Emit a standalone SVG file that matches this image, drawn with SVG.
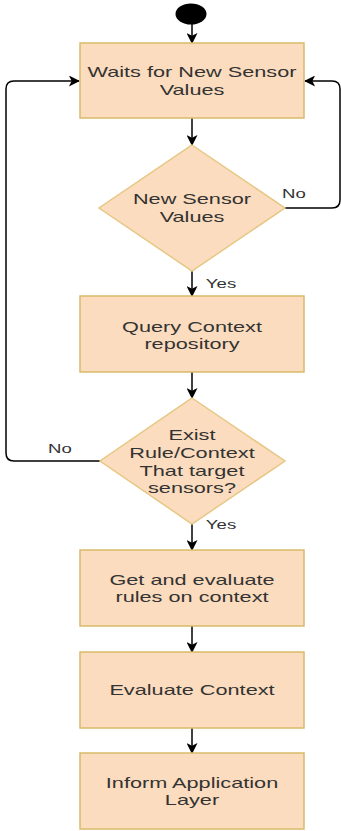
<svg xmlns="http://www.w3.org/2000/svg" width="341" height="831" viewBox="0 0 341 831">
<style>
.box{fill:#fbdcbe;stroke:#d9bb6a;stroke-width:1.5}
.dia{fill:#fbdcbe;stroke:#e6c784;stroke-width:1.5}
.t{font-family:"Liberation Sans",Arial,sans-serif;font-size:14px;fill:#333;text-anchor:middle}
.l{font-family:"Liberation Sans",Arial,sans-serif;font-size:12px;fill:#333;text-anchor:middle}
.c{fill:none;stroke:#000;stroke-width:1.5;marker-end:url(#arr)}
</style>
<defs>
<marker id="arr" viewBox="0 0 12 12" refX="11" refY="6" markerWidth="12" markerHeight="11" markerUnits="userSpaceOnUse" orient="auto">
<path d="M0,0 L12,6 L0,12 L3,6 Z" fill="#000"/>
</marker>
</defs>
<rect width="341" height="831" fill="#fff"/>
<g id="connectors">
<line class="c" x1="192" y1="24" x2="192" y2="43"/>
<line class="c" x1="192" y1="118" x2="192" y2="145"/>
<path class="c" d="M285,208 H332 Q340,208 340,200 V89 Q340,81 332,81 H305"/>
<line class="c" x1="192" y1="271" x2="192" y2="296"/>
<line class="c" x1="192" y1="372" x2="192" y2="398"/>
<path class="c" d="M100,461 H14 Q6,461 6,453 V89 Q6,81 14,81 H79"/>
<line class="c" x1="192" y1="524" x2="192" y2="550"/>
<line class="c" x1="192" y1="626" x2="192" y2="652"/>
<line class="c" x1="192" y1="728" x2="192" y2="753"/>
<text class="l" transform="translate(294 0) scale(1.55 1)" y="198">No</text>
<text class="l" transform="translate(221 0) scale(1.55 1)" y="288">Yes</text>
<text class="l" transform="translate(60 0) scale(1.55 1)" y="453">No</text>
<text class="l" transform="translate(221 0) scale(1.55 1)" y="529">Yes</text>
</g>
<g id="start">
<ellipse cx="191" cy="14" rx="15.5" ry="10.5" fill="#000"/>
</g>
<g id="wait">
<rect class="box" x="80" y="43" width="224" height="75"/>
<text class="t" transform="translate(192 0) scale(1.55 1)"><tspan x="0" y="77">Waits for New Sensor</tspan><tspan x="0" y="95">Values</tspan></text>
</g>
<g id="newvalues">
<polygon class="dia" points="192,145 285,208 192,271 99,208"/>
<text class="t" transform="translate(192 0) scale(1.55 1)"><tspan x="0" y="204">New Sensor</tspan><tspan x="0" y="222">Values</tspan></text>
</g>
<g id="query">
<rect class="box" x="80" y="296" width="224" height="76"/>
<text class="t" transform="translate(192 0) scale(1.55 1)"><tspan x="0" y="332">Query Context</tspan><tspan x="0" y="349">repository</tspan></text>
</g>
<g id="exist">
<polygon class="dia" points="192,398 285,461 192,524 100,461"/>
<text class="t" transform="translate(192 0) scale(1.55 1)"><tspan x="0" y="440">Exist</tspan><tspan x="0" y="458">Rule/Context</tspan><tspan x="0" y="476">That target</tspan><tspan x="0" y="493">sensors?</tspan></text>
</g>
<g id="getrules">
<rect class="box" x="80" y="550" width="224" height="76"/>
<text class="t" transform="translate(192 0) scale(1.55 1)"><tspan x="0" y="585">Get and evaluate</tspan><tspan x="0" y="602">rules on context</tspan></text>
</g>
<g id="evaluate">
<rect class="box" x="80" y="652" width="224" height="76"/>
<text class="t" transform="translate(192 0) scale(1.55 1)"><tspan x="0" y="695">Evaluate Context</tspan></text>
</g>
<g id="inform">
<rect class="box" x="80" y="753" width="224" height="76"/>
<text class="t" transform="translate(192 0) scale(1.55 1)"><tspan x="0" y="788">Inform Application</tspan><tspan x="0" y="805">Layer</tspan></text>
</g>
</svg>
